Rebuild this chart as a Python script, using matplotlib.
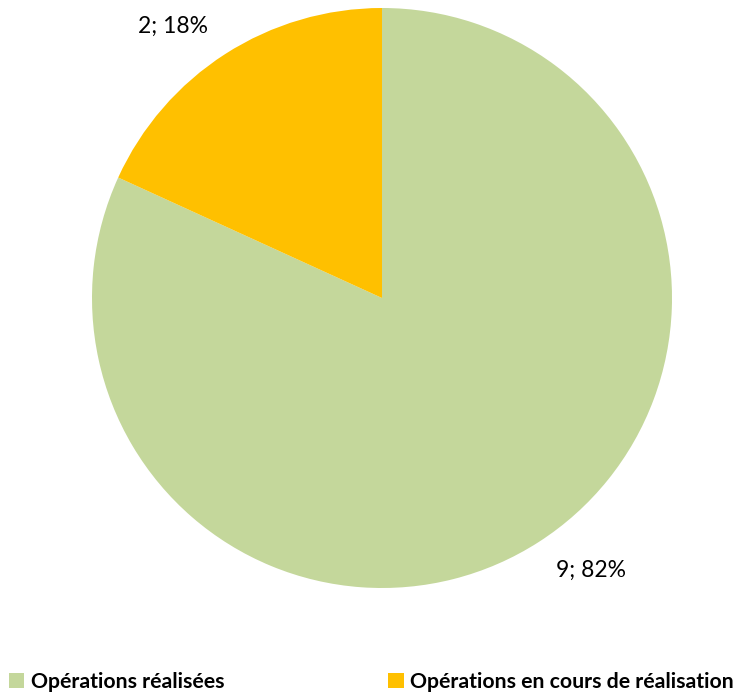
import numpy as np
import matplotlib
matplotlib.use("Agg")
import matplotlib.pyplot as plt
from matplotlib.patches import Patch

plt.rcParams['font.family'] = ['Lato', 'DejaVu Sans']

categories = ["Opérations réalisées", "Opérations en cours de réalisation"]
counts = [9, 2]
colors = ["#C4D79B", "#FFC000"]

fig = plt.figure(figsize=(7.5, 6.92), dpi=100)
ax = fig.add_axes([92 / 750, 104 / 692, 580 / 750, 580 / 692])

wedges, _ = ax.pie(counts, colors=colors, startangle=90, counterclock=False,
                   radius=1.0, wedgeprops=dict(linewidth=0))
ax.set_xlim(-1, 1)
ax.set_ylim(-1, 1)
ax.set_aspect('equal')
ax.axis('off')

# data labels just outside the rim, at each wedge's mid angle
total = sum(counts)
pad = 0.06
for w, n in zip(wedges, counts):
    mid = np.deg2rad((w.theta1 + w.theta2) / 2)
    x, y = np.cos(mid), np.sin(mid)
    ha = 'left' if x > 0 else 'right'
    va = 'bottom' if y > 0 else 'top'
    ax.text(x + np.sign(x) * pad, y + np.sign(y) * pad,
            "{}; {:.0f}%".format(n, 100 * n / total),
            ha=ha, va=va, fontsize=16.5, color='black')

handles = [Patch(facecolor=c, edgecolor='none') for c in colors]
fig.legend(handles, categories, loc='lower left', bbox_to_anchor=(0.0, -0.012),
           ncol=2, frameon=False, handlelength=0.75, handleheight=0.75,
           handletextpad=0.3, columnspacing=7.7, borderpad=0.2, borderaxespad=0.2,
           prop=dict(weight='bold', size=15.3))

fig.savefig("out.png", dpi=100)
